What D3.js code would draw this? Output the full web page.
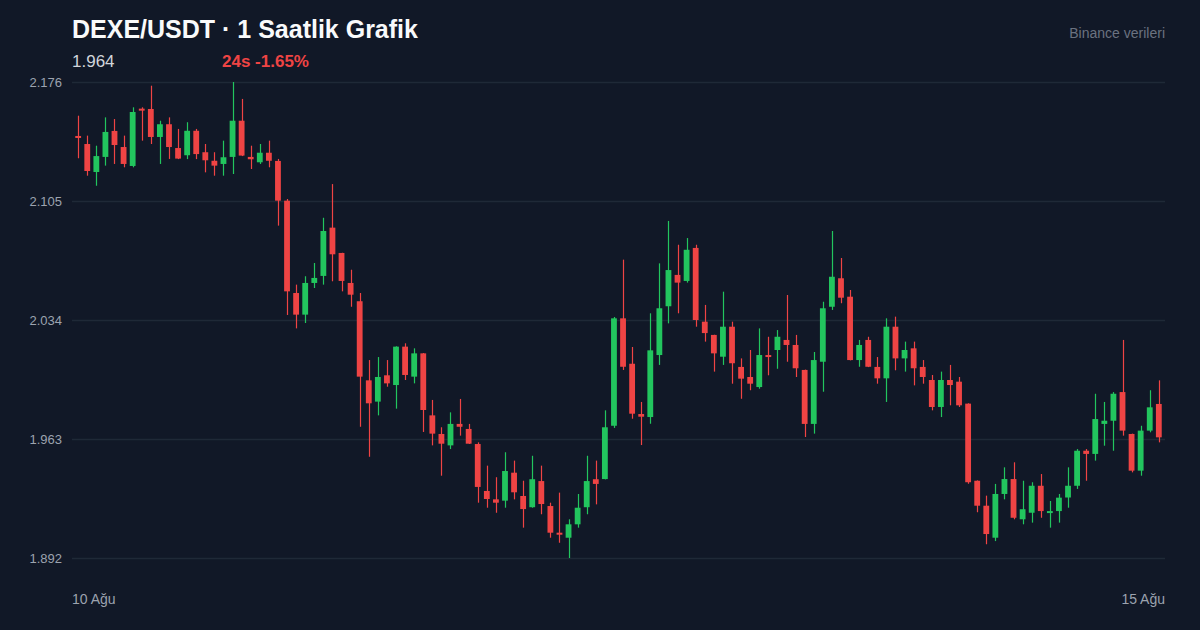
<!DOCTYPE html>
<html>
<head>
<meta charset="utf-8">
<script src="https://cdn.jsdelivr.net/npm/d3@7"></script>
<style>
  html, body { margin: 0; padding: 0; background: #111827; }
  svg { display: block; font-family: "Liberation Sans", Arial, sans-serif; }
</style>
</head>
<body>
<svg id="Chart" width="1200" height="630"></svg>
<script>
// hourly candles, 10 Ağu -> 15 Ağu
var opens = [
  2.1438, 2.1390, 2.1223, 2.1313, 2.1468, 2.1372, 2.1259, 2.1601, 2.1599, 2.1432,
  2.1508, 2.1366, 2.1323, 2.1469, 2.1341, 2.1290, 2.1271, 2.1313, 2.1529, 2.1313,
  2.1281, 2.1338, 2.1289, 2.1052, 2.0501, 2.0372, 2.0561, 2.0603, 2.0891, 2.0740,
  2.0561, 2.0452, 1.9980, 1.9853, 2.0010, 1.9952, 2.0181, 2.0002, 2.0141, 1.9771,
  1.9660, 1.9592, 1.9720, 1.9690, 1.9600, 1.9320, 1.9270, 1.9262, 1.9429, 1.9290,
  1.9223, 1.9379, 1.9230, 1.9071, 1.9041, 1.9121, 1.9223, 1.9390, 1.9391, 1.9709,
  2.0350, 2.0079, 1.9779, 1.9761, 2.0131, 2.0422, 2.0609, 2.0573, 2.0770, 2.0330,
  2.0251, 2.0121, 2.0300, 2.0060, 2.0000, 1.9940, 2.0131, 2.0161, 2.0221, 2.0191,
  2.0042, 1.9720, 2.0091, 2.0419, 2.0589, 2.0479, 2.0101, 2.0221, 2.0060, 1.9992,
  2.0300, 2.0111, 2.0171, 2.0060, 1.9982, 1.9821, 1.9982, 1.9972, 1.9841, 1.9381,
  1.9232, 1.9041, 1.9302, 1.9391, 1.9151, 1.9190, 1.9351, 1.9190, 1.9200, 1.9281,
  1.9351, 1.9560, 1.9541, 1.9720, 1.9739, 1.9910, 1.9660, 1.9441, 1.9680, 1.9839
];
var highs = [
  2.1559, 2.1440, 2.1380, 2.1549, 2.1539, 2.1440, 2.1609, 2.1609, 2.1738, 2.1529,
  2.1549, 2.1480, 2.1520, 2.1480, 2.1390, 2.1341, 2.1410, 2.1760, 2.1659, 2.1380,
  2.1390, 2.1410, 2.1301, 2.1062, 2.0551, 2.0601, 2.0680, 2.0950, 2.1151, 2.0741,
  2.0640, 2.0501, 2.0101, 2.0119, 2.0101, 2.0183, 2.0201, 2.0171, 2.0143, 1.9863,
  1.9700, 1.9789, 1.9869, 1.9720, 1.9610, 1.9471, 1.9402, 1.9551, 1.9501, 1.9381,
  1.9530, 1.9471, 1.9250, 1.9310, 1.9151, 1.9302, 1.9530, 1.9501, 1.9801, 2.0358,
  2.0700, 2.0179, 1.9851, 2.0380, 2.0678, 2.0931, 2.0789, 2.0829, 2.0789, 2.0430,
  2.0252, 2.0509, 2.0330, 2.0111, 2.0161, 2.0290, 2.0240, 2.0280, 2.0489, 2.0251,
  2.0044, 2.0149, 2.0449, 2.0871, 2.0710, 2.0519, 2.0221, 2.0240, 2.0119, 2.0350,
  2.0360, 2.0211, 2.0211, 2.0101, 2.0012, 2.0032, 2.0072, 2.0000, 1.9843, 1.9383,
  1.9292, 1.9362, 1.9461, 1.9491, 1.9381, 1.9372, 1.9421, 1.9260, 1.9302, 1.9461,
  1.9570, 1.9570, 1.9900, 1.9851, 1.9910, 2.0221, 1.9662, 1.9709, 1.9921, 1.9980
];
var lows = [
  2.1305, 2.1201, 2.1141, 2.1261, 2.1271, 2.1251, 2.1251, 2.1410, 2.1390, 2.1271,
  2.1301, 2.1300, 2.1300, 2.1300, 2.1221, 2.1201, 2.1201, 2.1211, 2.1318, 2.1241,
  2.1271, 2.1251, 2.0903, 2.0370, 2.0290, 2.0322, 2.0531, 2.0551, 2.0571, 2.0511,
  2.0419, 1.9703, 1.9524, 1.9771, 1.9942, 1.9811, 1.9982, 1.9962, 1.9672, 1.9592,
  1.9411, 1.9570, 1.9650, 1.9600, 1.9250, 1.9220, 1.9190, 1.9220, 1.9270, 1.9101,
  1.9220, 1.9181, 1.9041, 1.9011, 1.8920, 1.9101, 1.9181, 1.9240, 1.9389, 1.9696,
  2.0042, 1.9751, 1.9594, 1.9721, 2.0072, 2.0320, 2.0380, 2.0563, 2.0300, 2.0211,
  2.0032, 2.0072, 1.9960, 1.9870, 1.9921, 1.9930, 2.0010, 2.0049, 2.0091, 2.0000,
  1.9642, 1.9662, 1.9912, 2.0400, 2.0440, 2.0099, 2.0061, 2.0059, 1.9960, 1.9851,
  2.0040, 2.0032, 1.9950, 1.9960, 1.9801, 1.9761, 1.9831, 1.9821, 1.9363, 1.9193,
  1.9002, 1.9021, 1.9270, 1.9151, 1.9121, 1.9131, 1.9160, 1.9101, 1.9131, 1.9220,
  1.9332, 1.9381, 1.9501, 1.9590, 1.9560, 1.9650, 1.9431, 1.9411, 1.9670, 1.9610
];
var closes = [
  2.1426, 2.1229, 2.1318, 2.1462, 2.1384, 2.1271, 2.1581, 2.1591, 2.1432, 2.1508,
  2.1372, 2.1303, 2.1469, 2.1330, 2.1293, 2.1261, 2.1311, 2.1529, 2.1321, 2.1299,
  2.1338, 2.1290, 2.1052, 2.0511, 2.0372, 2.0561, 2.0591, 2.0871, 2.0732, 2.0573,
  2.0491, 2.0002, 1.9843, 2.0000, 1.9962, 2.0181, 2.0012, 2.0141, 1.9803, 1.9662,
  1.9602, 1.9720, 1.9703, 1.9602, 1.9344, 1.9272, 1.9250, 1.9439, 1.9312, 1.9212,
  1.9390, 1.9242, 1.9071, 1.9059, 1.9121, 1.9220, 1.9379, 1.9362, 1.9700, 2.0350,
  2.0061, 1.9781, 1.9763, 2.0159, 2.0410, 2.0638, 2.0563, 2.0759, 2.0340, 2.0262,
  2.0141, 2.0300, 2.0082, 1.9990, 1.9960, 2.0131, 2.0119, 2.0240, 2.0191, 2.0052,
  1.9720, 2.0101, 2.0410, 2.0598, 2.0473, 2.0101, 2.0191, 2.0061, 1.9992, 2.0300,
  2.0111, 2.0161, 2.0052, 2.0000, 1.9821, 1.9982, 1.9952, 1.9831, 1.9372, 1.9232,
  1.9063, 1.9302, 1.9391, 1.9160, 1.9211, 1.9351, 1.9200, 1.9200, 1.9280, 1.9351,
  1.9560, 1.9541, 1.9749, 1.9739, 1.9900, 1.9680, 1.9441, 1.9680, 1.9819, 1.9640
];
var yTicks = [2.176, 2.105, 2.034, 1.963, 1.892];
var xLabels = ["10 Ağu", "15 Ağu"];
var lastPrice = "1.964";
var change24 = "24s -1.65%";

var margin = { top: 82, bottom: 72, left: 72, right: 35 };
var width = 1200, height = 630;
var up = "#22c55e", down = "#ef4444";

var svg = d3.select("#Chart");
svg.append("rect").attr("width", width).attr("height", height).attr("fill", "#111827");

var candles = opens.map((o, i) => ({ i: i, o: o, h: highs[i], l: lows[i], c: closes[i] }));

var x = d3.scaleBand()
  .domain(candles.map(d => d.i))
  .range([margin.left, width - margin.right])
  .padding(0.36);

var y = d3.scaleLinear()
  .domain([d3.min(yTicks), d3.max(yTicks)])
  .range([height - margin.bottom, margin.top]);

// grid + y labels
svg.append("g")
  .attr("transform", `translate(${margin.left},0)`)
  .call(d3.axisLeft(y).tickValues(yTicks).tickFormat(d3.format(".3f"))
          .tickSize(-(width - margin.left - margin.right)).tickPadding(10))
  .call(g => g.select(".domain").remove())
  .call(g => g.selectAll(".tick line").attr("stroke", "#1f2937").attr("stroke-width", 1.5))
  .call(g => g.selectAll(".tick text")
              .attr("fill", "#9ca3af")
              .style("font-size", "13px")
              .style("font-family", "Liberation Sans, Arial, sans-serif"));

var g = svg.append("g");

// wicks
g.selectAll(".wick")
  .data(candles)
  .enter()
  .append("line")
  .attr("class", "wick")
  .attr("x1", d => Math.round(x(d.i) + x.bandwidth() / 2) + 0.5)
  .attr("x2", d => Math.round(x(d.i) + x.bandwidth() / 2) + 0.5)
  .attr("y1", d => y(d.h))
  .attr("y2", d => y(d.l))
  .attr("stroke", d => d.c >= d.o ? up : down)
  .attr("stroke-width", 1.2);

// bodies
g.selectAll(".body")
  .data(candles)
  .enter()
  .append("rect")
  .attr("class", "body")
  .attr("x", d => x(d.i))
  .attr("width", x.bandwidth())
  .attr("y", d => Math.min(y(d.o), y(d.c)))
  .attr("height", d => Math.max(2, Math.abs(y(d.o) - y(d.c))))
  .attr("fill", d => d.c >= d.o ? up : down);

// titles
svg.append("text")
  .attr("x", 72).attr("y", 38)
  .attr("fill", "#f9fafb")
  .style("font-size", "25px").style("font-weight", "bold")
  .text("DEXE/USDT · 1 Saatlik Grafik");

svg.append("text")
  .attr("x", 72).attr("y", 67)
  .attr("fill", "#d1d5db")
  .style("font-size", "17px")
  .text(lastPrice);

svg.append("text")
  .attr("x", 222).attr("y", 67)
  .attr("fill", down)
  .style("font-size", "17px").style("font-weight", "bold")
  .text(change24);

svg.append("text")
  .attr("x", width - margin.right).attr("y", 38)
  .attr("text-anchor", "end")
  .attr("fill", "#6b7280")
  .style("font-size", "14px")
  .text("Binance verileri");

// x labels
svg.append("text")
  .attr("x", margin.left).attr("y", 604)
  .attr("fill", "#9ca3af")
  .style("font-size", "14px")
  .text(xLabels[0]);

svg.append("text")
  .attr("x", width - margin.right).attr("y", 604)
  .attr("text-anchor", "end")
  .attr("fill", "#9ca3af")
  .style("font-size", "14px")
  .text(xLabels[1]);
</script>
</body>
</html>
